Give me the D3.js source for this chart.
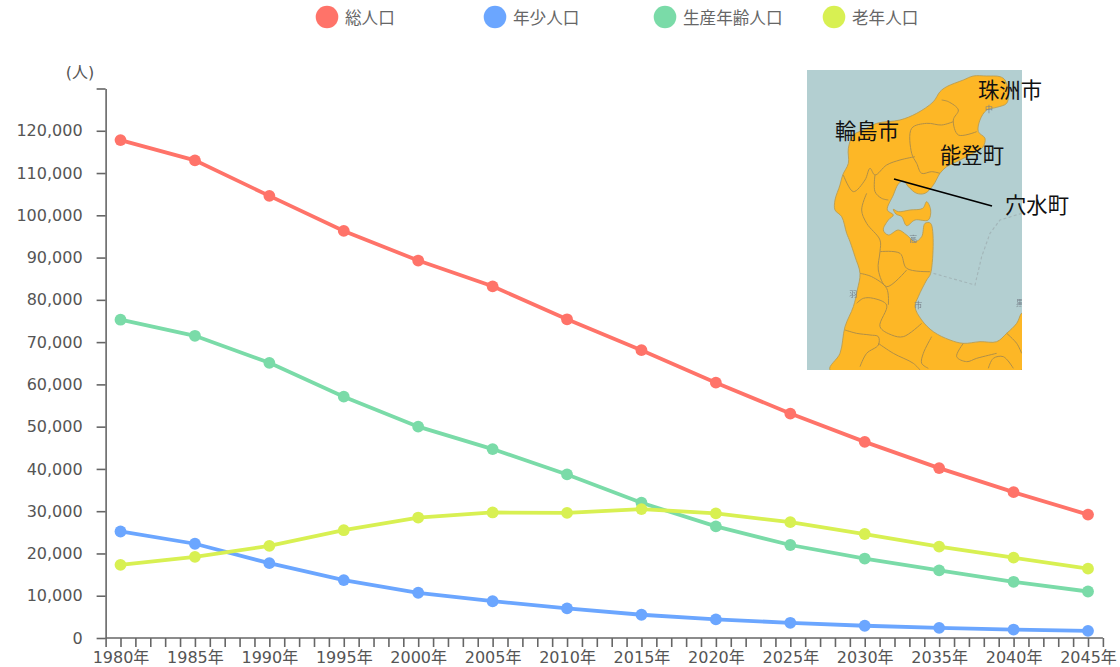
<!DOCTYPE html>
<html lang="ja">
<head>
<meta charset="utf-8">
<script src="https://cdn.jsdelivr.net/npm/d3@7"></script>
<style>
html, body { margin: 0; padding: 0; background: #fff; }
svg { display: block; }
text { font-family: "DejaVu Sans", "Noto Sans CJK JP", sans-serif; }
.axis text { font-size: 16px; fill: #555; }
.axis path, .axis line { stroke: #666; stroke-width: 1.6px; }
.legend text { font-size: 16.6px; fill: #666; font-family: "Noto Sans CJK JP", sans-serif; }
.place { font-size: 21.3px; fill: #111; font-family: "Noto Sans CJK JP", sans-serif; }
</style>
</head>
<body>
<svg id="chart" width="1120" height="667"></svg>
<script>
// Population by census year and projection, Oku-Noto area
const years = [1980, 1985, 1990, 1995, 2000, 2005, 2010, 2015, 2020, 2025, 2030, 2035, 2040, 2045];
const total = [117800, 113000, 104600, 96300, 89300, 83200, 75400, 68100, 60400, 53100, 46400, 40200, 34500, 29200];
const youth = [25200, 22300, 17700, 13700, 10700, 8700, 7000, 5500, 4400, 3600, 2900, 2400, 2000, 1700];
const working = [75300, 71500, 65100, 57100, 50000, 44700, 38700, 32000, 26400, 22000, 18800, 16000, 13300, 11000];
const elderly = [17300, 19200, 21800, 25500, 28500, 29700, 29600, 30500, 29500, 27400, 24600, 21600, 19000, 16400];
const seriesNames = ["総人口", "年少人口", "生産年齢人口", "老年人口"];
const seriesColors = ["#ff7369", "#6ba6ff", "#7adba8", "#d8f052"];
const seriesValues = [total, youth, working, elderly];
const drawOrder = [0, 1, 2, 3];
const legendX = [327, 495, 665, 834];

// Inset map outlines, in the map's own drawing units
const mainland = [[90,930],[120,880],[135,800],[160,740],[172,690],[180,640],[165,590],[150,545],[140,520],[125,470],[105,450],[105,420],[120,375],[128,345],[145,310],[145,265],[160,225],[190,210],[230,190],[300,180],[350,160],[400,125],[420,95],[440,80],[490,60],[520,48],[560,48],[600,50],[615,60],[625,100],[620,130],[590,142],[560,150],[540,180],[535,215],[555,235],[548,262],[510,285],[470,305],[440,320],[420,340],[400,375],[375,400],[350,400],[325,380],[310,362],[295,372],[280,405],[262,450],[280,465],[265,480],[250,510],[265,525],[295,510],[320,525],[345,545],[365,530],[375,490],[392,490],[392,640],[380,660],[355,710],[345,740],[365,780],[400,815],[450,840],[490,850],[540,845],[590,845],[620,820],[650,790],[665,760],[665,930]];
const island = [[280,448],[295,455],[330,450],[368,445],[380,425],[392,450],[385,480],[345,480],[320,497],[305,470],[288,462]];
const borders = [
  [[425,120],[445,125],[475,150],[460,180],[475,225],[530,215]],
  [[460,185],[425,195],[380,190],[335,205],[335,280],[350,310],[365,340],[395,335],[420,340]],
  [[130,345],[160,395],[195,360],[210,325],[225,345],[260,315],[300,300],[345,290]],
  [[225,345],[225,395],[245,415],[265,420]],
  [[200,400],[185,450],[200,490],[240,540],[240,575],[235,630],[260,680],[320,630]],
  [[240,575],[300,580],[320,625],[390,635]],
  [[180,640],[215,650],[260,685],[265,735]],
  [[170,730],[190,715],[220,715],[260,735],[240,800],[275,825],[310,830],[365,790]],
  [[135,810],[170,820],[210,825],[235,830],[235,855],[200,880],[180,920]],
  [[235,850],[280,880],[340,910],[360,930]],
  [[395,830],[370,880],[365,910],[385,925]],
  [[490,850],[470,890],[500,905],[530,895],[590,880]],
  [[565,925],[580,895],[610,890],[640,925]],
  [[620,820],[650,850],[665,880]]
];
const seaBoundary = [[665,460],[600,480],[570,520],[545,590],[525,675],[400,640]];
const mapMarks = [["羽",160,712],["市",355,745],["中",567,156],["高",340,546],["黒",660,737]];
const places = [["珠洲市",1010,88],["輪島市",867,129],["能登町",972,153],["穴水町",1037,203]];
const leader = [[894,179],[992,206]];

const svg = d3.select("#chart");
const x = d3.scaleLinear().domain([1980, 2045]).range([120.5, 1088]);
const y = d3.scaleLinear().domain([0, 130000]).range([638, 88.5]);
const axisYear0 = 1979, axisYear1 = 2046;

// Inset map
const map = svg.append("g");
map.append("clipPath").attr("id", "map-clip")
  .append("rect").attr("x", 807).attr("y", 70).attr("width", 215).attr("height", 300);
map.append("filter").attr("id", "soft")
  .append("feGaussianBlur").attr("stdDeviation", 0.6);
const mapBody = map.append("g").attr("clip-path", "url(#map-clip)");
mapBody.append("rect").attr("x", 807).attr("y", 70).attr("width", 215).attr("height", 300).attr("fill", "#b3cfd1");
const mapInner = mapBody.append("g").attr("filter", "url(#soft)")
  .attr("transform", "translate(800,60) scale(0.33333)");
const curve = d3.line().curve(d3.curveCatmullRom.alpha(0.5));
const closed = d3.line().curve(d3.curveCatmullRomClosed.alpha(0.5));
mapInner.append("path").attr("d", d3.line()(seaBoundary)).attr("fill", "none")
  .attr("stroke", "#a3b6b9").attr("stroke-width", 3.5).attr("stroke-dasharray", "9 7");
[mainland, island].forEach(shape => {
  mapInner.append("path").attr("d", closed(shape)).attr("fill", "#fdb726")
    .attr("stroke", "#b89a4e").attr("stroke-width", 2.5);
});
borders.forEach(b => {
  mapInner.append("path").attr("d", curve(b)).attr("fill", "none")
    .attr("stroke", "#b08f48").attr("stroke-width", 3);
});
mapInner.selectAll("text.mark").data(mapMarks).join("text").attr("class", "mark")
  .attr("x", d => d[1]).attr("y", d => d[2]).attr("text-anchor", "middle")
  .attr("font-size", 24).attr("fill", "#77808a").text(d => d[0]);

// Axes
const xAxis = d3.axisBottom(x)
  .tickValues(d3.range(axisYear0, axisYear1 + 1))
  .tickSize(9).tickSizeOuter(0).tickPadding(5)
  .tickFormat(d => (d >= 1980 && d % 5 === 0) ? d + "年" : "");
const gx = svg.append("g").attr("class", "axis").attr("transform", "translate(0,638)").call(xAxis);
gx.select(".domain").attr("d", `M${x(axisYear0)},0H${x(axisYear1)}`);

const yAxis = d3.axisLeft(y)
  .tickValues(d3.range(0, 130001, 10000))
  .tickSize(9).tickSizeOuter(0).tickPadding(14)
  .tickFormat(d => d === 130000 ? "" : d3.format(",")(d));
svg.append("g").attr("class", "axis").attr("transform", `translate(${x(axisYear0)},0)`).call(yAxis);

svg.append("text").attr("x", 80).attr("y", 78).attr("text-anchor", "middle")
  .style("font-size", "16px").style("fill", "#555").text("(人)");

// Series
const lineGen = d3.line().x(d => x(d[0])).y(d => y(d[1]));
drawOrder.forEach(i => {
  const pts = d3.zip(years, seriesValues[i]);
  const g = svg.append("g");
  g.append("path").attr("d", lineGen(pts)).attr("fill", "none")
    .attr("stroke", seriesColors[i]).attr("stroke-width", 3.8);
  g.selectAll("circle").data(pts).join("circle")
    .attr("cx", d => x(d[0])).attr("cy", d => y(d[1])).attr("r", 5.9)
    .attr("fill", seriesColors[i]);
});

// Place names and the leader line sit over the map
svg.append("line").attr("x1", leader[0][0]).attr("y1", leader[0][1])
  .attr("x2", leader[1][0]).attr("y2", leader[1][1])
  .attr("stroke", "#000").attr("stroke-width", 1.8);
svg.selectAll("text.place").data(places).join("text").attr("class", "place")
  .attr("x", d => d[1]).attr("y", d => d[2]).attr("text-anchor", "middle")
  .attr("dominant-baseline", "central").text(d => d[0]);

// Legend
const legend = svg.append("g").attr("class", "legend");
seriesNames.forEach((name, i) => {
  legend.append("circle").attr("cx", legendX[i]).attr("cy", 17).attr("r", 11.3).attr("fill", seriesColors[i]);
  legend.append("text").attr("x", legendX[i] + 18).attr("y", 17)
    .attr("dominant-baseline", "central").text(name);
});
</script>
</body>
</html>
